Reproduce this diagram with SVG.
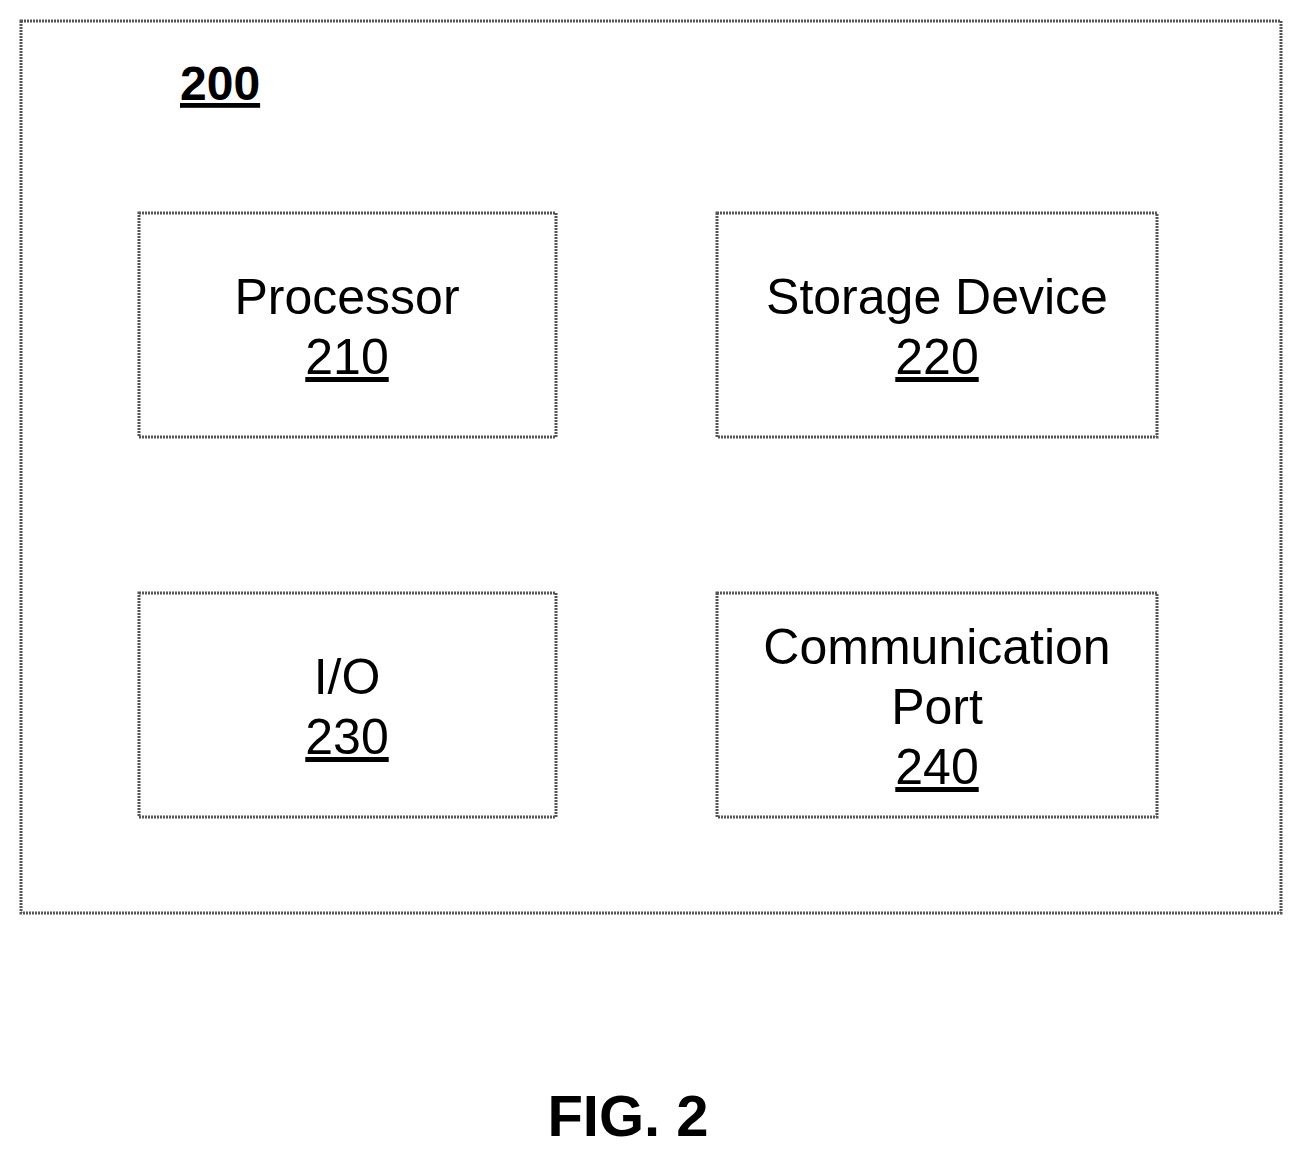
<svg xmlns="http://www.w3.org/2000/svg" width="1302" height="1157" viewBox="0 0 1302 1157">
<style>
.box{fill:none;stroke:#555;stroke-width:3;stroke-dasharray:2 1}
.t{font-family:"Liberation Sans",Arial,sans-serif;font-size:50px;fill:#000;text-anchor:middle}
.u{text-decoration:underline}
</style>
<rect width="1302" height="1157" fill="#fff"/>
<g id="system"><rect class="box" x="21" y="21" width="1260" height="892"/>
<text x="180" y="100" font-family="Liberation Sans,Arial,sans-serif" font-size="48" font-weight="bold" text-decoration="underline">200</text></g>
<g id="processor"><rect class="box" x="139" y="213" width="417" height="224"/>
<text class="t" x="347" y="314">Processor</text><text class="t u" x="347" y="374">210</text></g>
<g id="storage"><rect class="box" x="717" y="213" width="440" height="224"/>
<text class="t" x="937" y="314">Storage Device</text><text class="t u" x="937" y="374">220</text></g>
<g id="io"><rect class="box" x="139" y="593" width="417" height="224"/>
<text class="t" x="347" y="694">I/O</text><text class="t u" x="347" y="754">230</text></g>
<g id="comm"><rect class="box" x="717" y="593" width="440" height="224"/>
<text class="t" x="937" y="664">Communication</text><text class="t" x="937" y="724">Port</text><text class="t u" x="937" y="784">240</text></g>
<g id="connectors"/>
<text x="628" y="1136" font-family="Liberation Sans,Arial,sans-serif" font-size="58" font-weight="bold" text-anchor="middle">FIG. 2</text>
</svg>
